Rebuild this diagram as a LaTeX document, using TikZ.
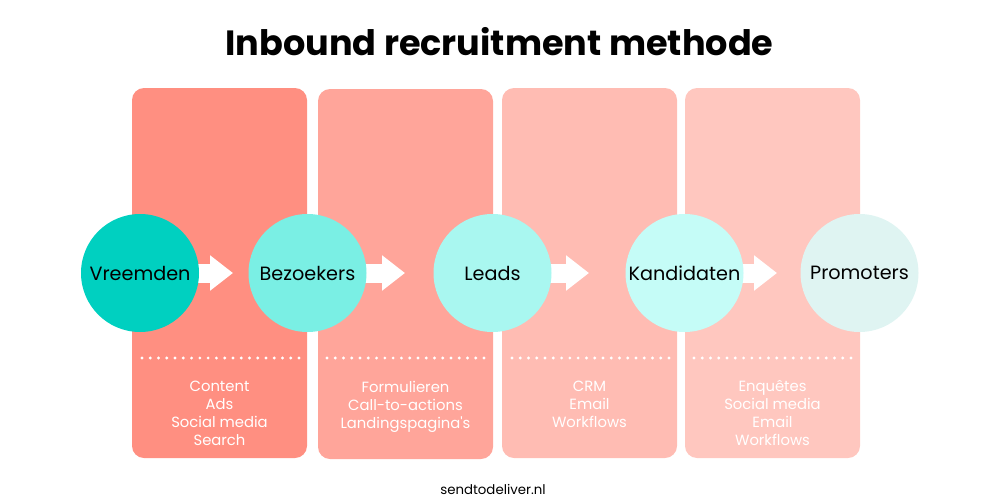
\documentclass[tikz,border=0pt]{standalone}
\usepackage{fontspec}
\setmainfont{Poppins}
\usetikzlibrary{arrows.meta,calc}
\definecolor{boxA}{HTML}{FF8F81}
\definecolor{boxB}{HTML}{FFA59A}
\definecolor{boxC}{HTML}{FFBCB3}
\definecolor{boxD}{HTML}{FFC7BF}
\definecolor{cirA}{HTML}{00D0C0}
\definecolor{cirB}{HTML}{7AEFE4}
\definecolor{cirC}{HTML}{A9F7F0}
\definecolor{cirD}{HTML}{C5FCF7}
\definecolor{cirE}{HTML}{DFF4F2}
\tikzset{
  panel/.style={rounded corners=9pt},
  stage/.style={circle, minimum size=88.5pt, inner sep=0pt, text=black, font=\fontsize{14.4}{18}\selectfont},
  blockarrow/.style={white, line width=14.25pt, -{Triangle[length=17.25pt,width=25.5pt]}},
  dotrow/.style={white, line width=2.4pt, line cap=round, dash pattern=on 0pt off 6.2pt},
  tools/.style={white, align=center, anchor=north, inner sep=0pt, font=\fontsize{11.1}{13.5}\selectfont},
}
\begin{document}
\begin{tikzpicture}[x=0.75pt,y=-0.75pt]
\useasboundingbox (0,0) rectangle (1000,500);
% panels
\fill[panel, boxA] (132,88) rectangle (307,458);
\fill[panel, boxB] (318,89) rectangle (493,459);
\fill[panel, boxC] (502,88) rectangle (677,458);
\fill[panel, boxD] (685,88) rectangle (860,458);
% title
\node[anchor=base, inner sep=0pt, font=\fontsize{26.3}{30}\selectfont\bfseries] (title) at (499.5,55) {Inbound recruitment methode};
% stage positions
\coordinate (pV) at (140,273);
\coordinate (pB) at (307.5,273);
\coordinate (pL) at (492.5,273);
\coordinate (pK) at (684.5,273);
\coordinate (pP) at (859.5,273);
% arrows (drawn under circles)
\draw[blockarrow] ($(pV)+(55,0)$) coordinate (a1) -- ($(pV)+(93,0)$) coordinate (t1);
\draw[blockarrow] ($(pB)+(55,0)$) coordinate (a2) -- ($(pB)+(97.5,0)$) coordinate (t2);
\draw[blockarrow] ($(pL)+(55,0)$) coordinate (a3) -- ($(pL)+(96.5,0)$) coordinate (t3);
\draw[blockarrow] ($(pK)+(55,0)$) coordinate (a4) -- ($(pK)+(92.5,0)$) coordinate (t4);
% circles
\node[stage, fill=cirA] (V) at (pV) {Vreemden};
\node[stage, fill=cirB] (B) at (pB) {Bezoekers};
\node[stage, fill=cirC] (L) at (pL) {Leads};
\node[stage, fill=cirD] (K) at (pK) {Kandidaten};
\node[stage, fill=cirE] (P) at (pP) {Promoters};
% dotted separators
\draw[dotrow] (142,358) -- (300,358);
\draw[dotrow] (327,358) -- (485,358);
\draw[dotrow] (512,358) -- (670,358);
\draw[dotrow] (694,358) -- (852,358);
% tool lists
\node[tools] (l1) at (219.5,380.5) {Content\\Ads\\Social media\\Search};
\node[tools] (l2) at (405.5,380.5) {Formulieren\\Call-to-actions\\Landingspagina\textquotesingle s};
\node[tools] (l3) at (589.5,380.5) {CRM\\Email\\Workflows};
\node[tools] (l4) at (772.5,380.5) {Enquêtes\\Social media\\Email\\Workflows};
% footer
\node[anchor=base, inner sep=0pt, font=\fontsize{10}{12}\selectfont] (foot) at (493,494) {sendtodeliver.nl};
\end{tikzpicture}
\end{document}
